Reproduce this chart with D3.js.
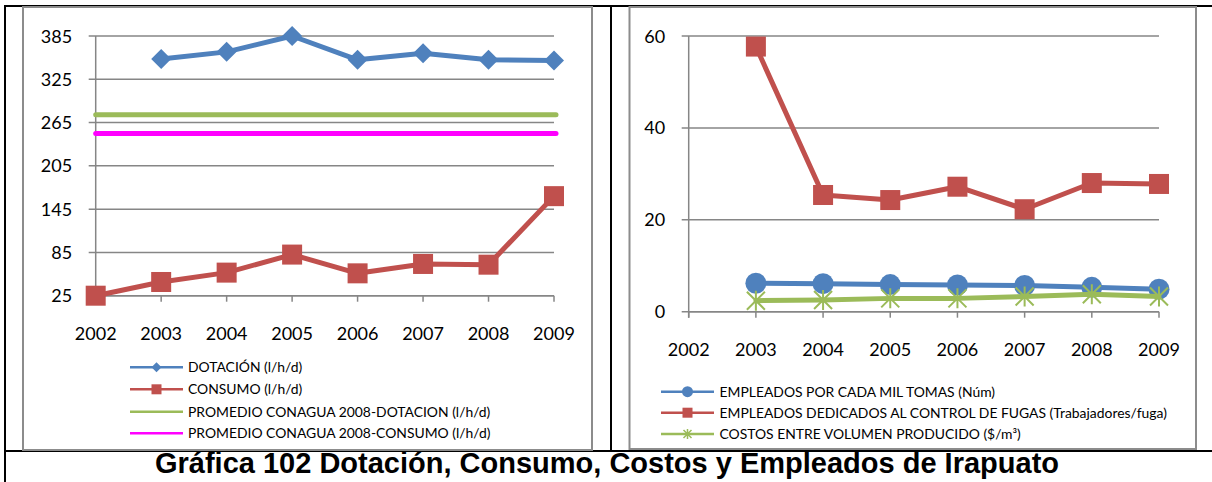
<!DOCTYPE html>
<html><head><meta charset="utf-8">
<script src="https://cdn.jsdelivr.net/npm/d3@7/dist/d3.min.js"></script>
<style>body{margin:0;background:#fff;} svg{display:block;}</style>
</head><body>
<script>
const years = [2002,2003,2004,2005,2006,2007,2008,2009];
const leftTicks = [25,85,145,205,265,325,385];
const dotacion = [null,353,363,385,352,361,352,351];
const consumo = [25,44,57,82,56,69,68,163];
const promDotacion = 276;
const promConsumo = 250;
const leftLegend = ["DOTACIÓN (l/h/d)","CONSUMO (l/h/d)","PROMEDIO CONAGUA 2008-DOTACION (l/h/d)","PROMEDIO CONAGUA 2008-CONSUMO (l/h/d)"];

const rightTicks = [0,20,40,60];
const empleadosTomas = [null,6.2,6.1,5.9,5.8,5.7,5.3,4.9];
const empleadosFugas = [null,57.7,25.4,24.3,27.2,22.3,28.0,27.8];
const costos = [null,2.4,2.55,2.9,2.9,3.3,3.8,3.3];
const rightLegend = ["EMPLEADOS POR CADA MIL TOMAS (Núm)","EMPLEADOS DEDICADOS AL CONTROL DE FUGAS (Trabajadores/fuga)","COSTOS ENTRE VOLUMEN PRODUCIDO ($/m³)"];
const title = "Gráfica 102 Dotación, Consumo, Costos y Empleados de Irapuato";

const BLUE="#4F81BD", RED="#C0504D", GREEN="#9BBB59", MAG="#FF00FF", GRID="#868686";
const FONT="Lato, 'Open Sans', sans-serif";

const svg = d3.select("body").append("svg").attr("width",1212).attr("height",482);

// table borders
svg.append("line").attr("x1",5).attr("x2",1212).attr("y1",6).attr("y2",6).attr("stroke","#000").attr("stroke-width",2);
svg.append("line").attr("x1",5).attr("x2",5).attr("y1",5).attr("y2",482).attr("stroke","#000").attr("stroke-width",2);
svg.append("line").attr("x1",611).attr("x2",611).attr("y1",5).attr("y2",451).attr("stroke","#000").attr("stroke-width",2);
svg.append("line").attr("x1",5).attr("x2",1212).attr("y1",451).attr("y2",451).attr("stroke","#000").attr("stroke-width",2);

// chart frames
svg.append("rect").attr("x",23).attr("y",7).attr("width",569).attr("height",443).attr("fill","#fff").attr("stroke","#8c8c8c").attr("stroke-width",2);
svg.append("rect").attr("x",629.5).attr("y",7).attr("width",566.5).attr("height",442).attr("fill","#fff").attr("stroke","#8c8c8c").attr("stroke-width",2);

svg.append("text").attr("x",607).attr("y",473).attr("text-anchor","middle")
  .attr("font-family","'Liberation Sans', Arial, sans-serif").attr("font-weight","bold").attr("font-size",29)
  .text(title);

function drawAxes(g, x, y, ticks, x0, x1, yBase){
  ticks.forEach(t=>{
    g.append("line").attr("x1",x0-7).attr("x2",x1).attr("y1",y(t)).attr("y2",y(t)).attr("stroke",GRID).attr("stroke-width",1.5);
    g.append("text").attr("x",x0-23.5).attr("y",y(t)+6.5).attr("text-anchor","end").attr("font-family",FONT).attr("font-size",18).attr("fill","#000").text(t);
  });
  g.append("line").attr("x1",x0).attr("x2",x0).attr("y1",y(ticks[ticks.length-1])).attr("y2",yBase+6).attr("stroke",GRID).attr("stroke-width",1.5);
  g.append("line").attr("x1",x0).attr("x2",x1).attr("y1",yBase).attr("y2",yBase).attr("stroke",GRID).attr("stroke-width",1.5);
  years.forEach(yr=>{
    g.append("line").attr("x1",x(yr)).attr("x2",x(yr)).attr("y1",yBase).attr("y2",yBase+6).attr("stroke",GRID).attr("stroke-width",1.5);
    g.append("text").attr("x",x(yr)).attr("y",yBase+44.5).attr("text-anchor","middle").attr("font-family",FONT).attr("font-size",18).attr("fill","#000").text(yr);
  });
}

function series(g, x, y, vals, color, width){
  const pts = years.map((yr,i)=>[yr,vals[i]]).filter(d=>d[1]!=null);
  g.append("path").attr("d", d3.line().x(d=>x(d[0])).y(d=>y(d[1]))(pts))
    .attr("fill","none").attr("stroke",color).attr("stroke-width",width).attr("stroke-linejoin","round").attr("stroke-linecap","round");
  return pts;
}

// LEFT chart
{
  const g = svg.append("g");
  const x = d3.scalePoint().domain(years).range([95.7,554]);
  const y = d3.scaleLinear().domain([25,385]).range([295.7,36]);
  drawAxes(g,x,y,leftTicks,95.7,554,295.7);
  g.append("line").attr("x1",x(2002)).attr("x2",x(2009)+2).attr("y1",y(promDotacion)).attr("y2",y(promDotacion)).attr("stroke",GREEN).attr("stroke-width",5).attr("stroke-linecap","round");
  g.append("line").attr("x1",x(2002)).attr("x2",x(2009)+2).attr("y1",y(promConsumo)).attr("y2",y(promConsumo)).attr("stroke",MAG).attr("stroke-width",5).attr("stroke-linecap","round");
  const p1 = series(g,x,y,dotacion,BLUE,5);
  p1.forEach(d=>{
    const cx=x(d[0]), cy=y(d[1]), r=10;
    g.append("path").attr("d",`M${cx},${cy-r}L${cx+r},${cy}L${cx},${cy+r}L${cx-r},${cy}Z`).attr("fill",BLUE);
  });
  const p2 = series(g,x,y,consumo,RED,5);
  p2.forEach(d=>{
    g.append("rect").attr("x",x(d[0])-10).attr("y",y(d[1])-10).attr("width",20).attr("height",20).attr("fill",RED);
  });
  const lx0=130, lx1=183, tx=188, ys=[367.3,389.3,411.7,433.3];
  const cols=[BLUE,RED,GREEN,MAG];
  ys.forEach((yy,i)=>{
    g.append("line").attr("x1",lx0).attr("x2",lx1).attr("y1",yy).attr("y2",yy).attr("stroke",cols[i]).attr("stroke-width",2.5);
    const cx=(lx0+lx1)/2;
    if(i===0) g.append("path").attr("d",`M${cx},${yy-5}L${cx+5},${yy}L${cx},${yy+5}L${cx-5},${yy}Z`).attr("fill",BLUE);
    if(i===1) g.append("rect").attr("x",cx-5).attr("y",yy-5).attr("width",10).attr("height",10).attr("fill",RED);
    g.append("text").attr("x",tx).attr("y",yy+5).attr("font-family",FONT).attr("font-size",13.9).attr("fill","#000").text(leftLegend[i]);
  });
}

// RIGHT chart
{
  const g = svg.append("g");
  const x = d3.scalePoint().domain(years).range([688.7,1159]);
  const y = d3.scaleLinear().domain([0,60]).range([311.7,36]);
  drawAxes(g,x,y,rightTicks,688.7,1159,311.7);
  const pb = series(g,x,y,empleadosTomas,BLUE,5);
  pb.forEach(d=>g.append("circle").attr("cx",x(d[0])).attr("cy",y(d[1])).attr("r",10.5).attr("fill",BLUE));
  const pg = series(g,x,y,costos,GREEN,5);
  pg.forEach(d=>{
    const cx=x(d[0]), cy=y(d[1]), r=9;
    g.append("path").attr("d",`M${cx-r},${cy-r}L${cx+r},${cy+r}M${cx-r},${cy+r}L${cx+r},${cy-r}M${cx},${cy-r-1}L${cx},${cy+r+1}`)
      .attr("stroke",GREEN).attr("stroke-width",2).attr("fill","none");
  });
  const pr = series(g,x,y,empleadosFugas,RED,5);
  pr.forEach(d=>g.append("rect").attr("x",x(d[0])-10).attr("y",y(d[1])-10).attr("width",20).attr("height",20).attr("fill",RED));
  const lx0=661, lx1=714, tx=719.5, ys=[391.7,412.7,434];
  const cols=[BLUE,RED,GREEN];
  ys.forEach((yy,i)=>{
    g.append("line").attr("x1",lx0).attr("x2",lx1).attr("y1",yy).attr("y2",yy).attr("stroke",cols[i]).attr("stroke-width",2.5);
    const cx=(lx0+lx1)/2;
    if(i===0) g.append("circle").attr("cx",cx).attr("cy",yy).attr("r",5.5).attr("fill",BLUE);
    if(i===1) g.append("rect").attr("x",cx-5).attr("y",yy-5).attr("width",10).attr("height",10).attr("fill",RED);
    if(i===2) g.append("path").attr("d",`M${cx-4},${yy-4}L${cx+4},${yy+4}M${cx-4},${yy+4}L${cx+4},${yy-4}M${cx},${yy-5}L${cx},${yy+5}`).attr("stroke",GREEN).attr("stroke-width",1.5);
    g.append("text").attr("x",tx).attr("y",yy+5).attr("font-family",FONT).attr("font-size",13.9).attr("fill","#000").text(rightLegend[i]);
  });
}
</script>
</body></html>
